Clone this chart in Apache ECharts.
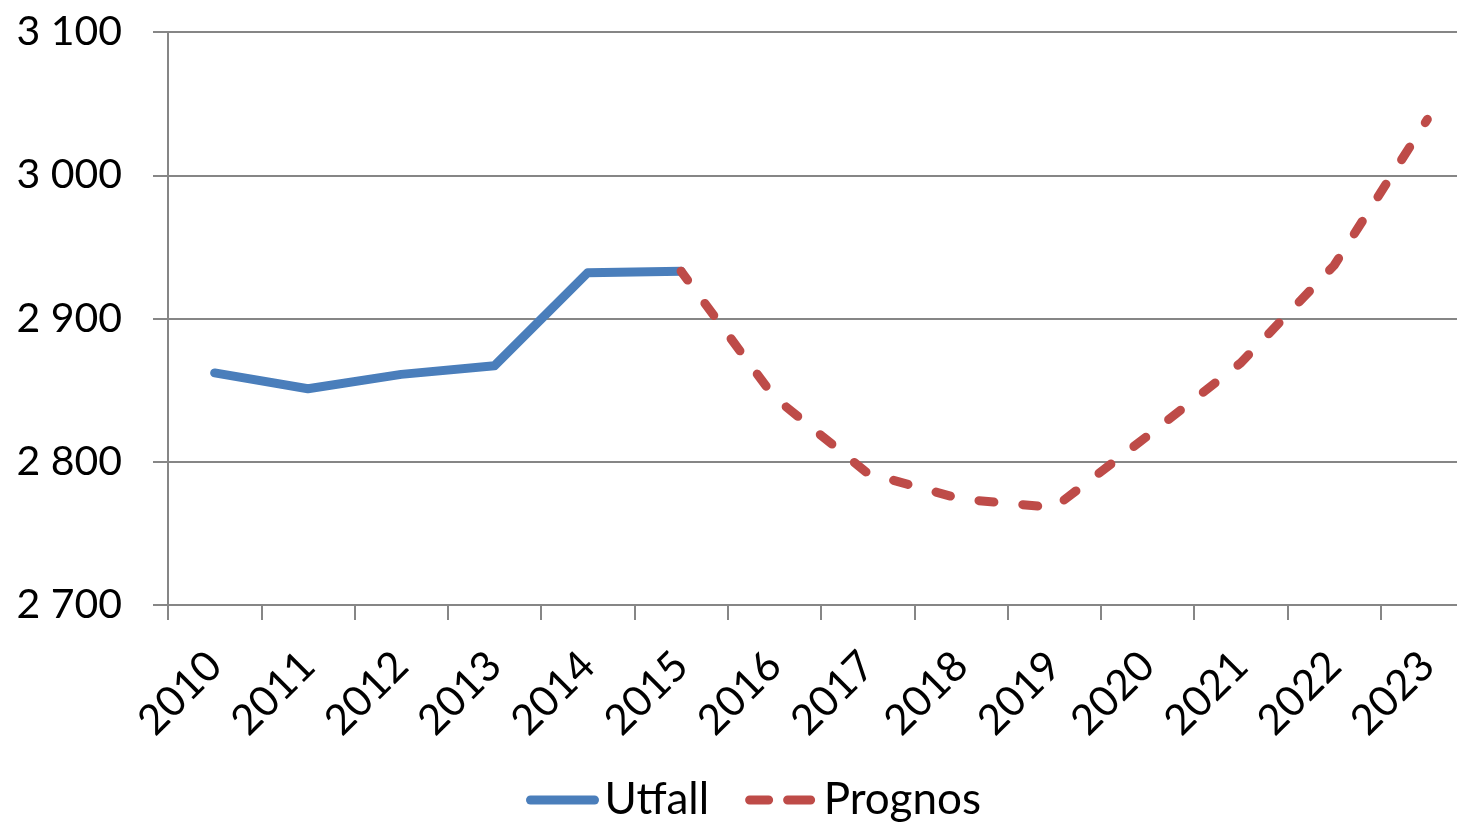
<!DOCTYPE html>
<html>
<head>
<meta charset="UTF-8">
<title>Utfall och prognos</title>
<script src="https://cdn.jsdelivr.net/npm/echarts@6/dist/echarts.min.js"></script>
<style>
  html, body { margin: 0; padding: 0; background: #fff; }
  #chart { width: 1457px; height: 823px; }
</style>
</head>
<body>
<div id="chart"></div>
<script type="text/javascript">
var years = ['2010', '2011', '2012', '2013', '2014', '2015', '2016',
             '2017', '2018', '2019', '2020', '2021', '2022', '2023'];
// Utfall 2010-2015, prognos 2015-2023
var utfall = [2862, 2851, 2861, 2867, 2932, 2933, null, null, null, null, null, null, null, null];
var prognos = [null, null, null, null, null, 2933, 2845, 2792, 2774, 2768, 2818, 2869, 2937, 3039];
var yTicks = [2700, 2800, 2900, 3000, 3100];

var font = 'Lato, "Open Sans", sans-serif';
var grey = '#868686';
var blue = '#4A7EBB';
var red = '#BE4B48';

var myChart = echarts.init(document.getElementById('chart'));

var option = {
    animation: false,
    textStyle: { fontFamily: font },
    legend: {
        bottom: -4,
        left: 521,
        itemWidth: 64,
        itemHeight: 10,
        itemGap: 36,
        itemStyle: { opacity: 0 },
        lineStyle: { width: 9, cap: 'round' },
        textStyle: { fontSize: 44, color: '#000', fontFamily: font, padding: [0, 0, 0, 5] },
        data: [
            { name: 'Utfall', lineStyle: { color: blue, width: 9, cap: 'round' } },
            { name: 'Prognos', lineStyle: { color: red, width: 9, type: [23, 19], cap: 'round' } }
        ]
    },
    grid: { left: 168, top: 32, width: 1306, height: 573, outerBoundsMode: 'none' },
    xAxis: {
        type: 'category',
        data: years,
        boundaryGap: true,
        axisLine: { lineStyle: { color: grey, width: 2 } },
        axisTick: { show: true, length: 15, lineStyle: { color: grey, width: 2 } },
        axisLabel: { rotate: 45, margin: 54, fontSize: 42, color: '#000', fontFamily: font }
    },
    yAxis: {
        type: 'value',
        min: yTicks[0],
        max: yTicks[yTicks.length - 1],
        interval: 100,
        axisLine: { show: true, lineStyle: { color: grey, width: 2 } },
        axisTick: { show: true, length: 15, lineStyle: { color: grey, width: 2 } },
        splitLine: { lineStyle: { color: grey, width: 2 } },
        axisLabel: {
            margin: 46, fontSize: 41, color: '#000', fontFamily: font,
            formatter: function (v) {
                return String(v).replace(/\B(?=(\d{3})+(?!\d))/g, ' ');
            }
        }
    },
    series: [
        {
            name: 'Utfall',
            type: 'line',
            data: utfall,
            symbol: 'none',
            itemStyle: { color: blue },
            lineStyle: { color: blue, width: 9, cap: 'round', join: 'round' }
        },
        {
            name: 'Prognos',
            type: 'line',
            data: prognos,
            symbol: 'none',
            itemStyle: { color: red },
            lineStyle: { color: red, width: 9, type: [15, 29], dashOffset: 4, cap: 'round', join: 'round' }
        }
    ]
};

myChart.setOption(option);
</script>
</body>
</html>
